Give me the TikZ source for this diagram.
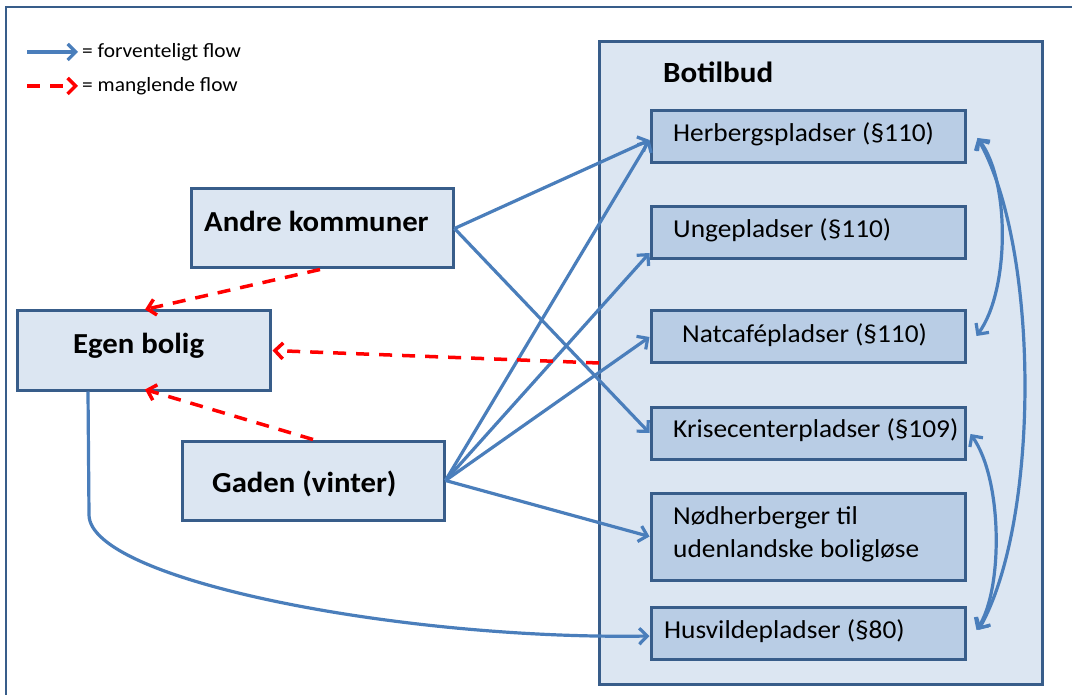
\documentclass[tikz,border=0pt]{standalone}
\usepackage{fontspec}
\setmainfont{Carlito}[FakeStretch=1.06]
\usetikzlibrary{arrows.meta,calc}
\definecolor{boxline}{HTML}{385D8A}
\definecolor{lightfill}{HTML}{DCE6F2}
\definecolor{midfill}{HTML}{B9CDE5}
\definecolor{flowblue}{HTML}{4A7EBB}
\definecolor{flowred}{HTML}{FF0000}
\begin{document}
\begin{tikzpicture}[x=1pt,y=-1pt,
  outerbox/.style={draw=boxline, fill=lightfill, line width=3pt, rectangle, inner sep=0pt},
  innerbox/.style={draw=boxline, fill=midfill, line width=3pt, rectangle, inner sep=0pt, minimum width=314pt},
  biglbl/.style={anchor=base west, inner sep=0pt, font=\fontsize{29}{35}\selectfont\bfseries},
  boxlbl/.style={anchor=base west, inner sep=0pt, font=\fontsize{25.8}{30}\selectfont},
  leglbl/.style={anchor=base west, inner sep=0pt, font=\fontsize{20.2}{24}\selectfont},
  flow/.style={draw=flowblue, line width=3.2pt, -{Straight Barb[length=8pt,width=16pt]}},
  biflow/.style={draw=flowblue, line width=3.2pt, {Straight Barb[length=8pt,width=16pt]}-{Straight Barb[length=8pt,width=16pt]}},
  missing/.style={draw=flowred, line width=3.5pt, dash pattern=on 13pt off 10pt, -{Straight Barb[length=8pt,width=16pt]}}
]
\useasboundingbox (0,0) rectangle (1072,695);
\fill[white] (0,0) rectangle (1072,695);
% outer frame
\draw[boxline, line width=1.5pt] (6,700) -- (6,7) -- (1080,7);

% legend
\coordinate (lb1) at (27,52);
\coordinate (lb2) at (78,52);
\coordinate (lr1) at (27,86);
\coordinate (lr2) at (78,86);
\draw[flow] (lb1) -- (lb2);
\draw[missing] (lr1) -- (lr2);
\node[leglbl] (legf) at (82,58) {= forventeligt flow};
\node[leglbl] (legm) at (82,92) {= manglende flow};

% Botilbud container
\node[outerbox, minimum width=443pt, minimum height=642pt] (bot) at (820.5,363) {};
\node[anchor=base west, inner sep=0pt, font=\fontsize{29.3}{34}\selectfont\bfseries] (bottxt) at (663,83) {Botilbud};

% inner boxes
\node[innerbox, minimum height=52pt] (herb) at (808,137) {};
\node[innerbox, minimum height=52pt] (unge) at (808,233) {};
\node[innerbox, minimum height=52pt] (nat) at (808,337) {};
\node[innerbox, minimum height=52pt] (krise) at (808,433) {};
\node[innerbox, minimum height=87pt] (nod) at (808,536.5) {};
\node[innerbox, minimum height=52pt] (husv) at (808,633) {};
\node[boxlbl] (herbt) at (673,142) {Herbergspladser (§110)};
\node[boxlbl] (unget) at (673,238) {Ungepladser (§110)};
\node[boxlbl] (natt) at (682,342) {Natcafépladser (§110)};
\node[boxlbl] (kriset) at (673,437) {Krisecenterpladser (§109)};
\node[boxlbl] (nodt1) at (673,524) {Nødherberger til};
\node[boxlbl] (nodt2) at (673,557) {udenlandske boligløse};
\node[boxlbl] (husvt) at (664,638) {Husvildepladser (§80)};

% left boxes
\node[outerbox, minimum width=262pt, minimum height=79pt] (andre) at (322,228.5) {};
\node[outerbox, minimum width=253pt, minimum height=79pt] (egen) at (143.5,350.5) {};
\node[outerbox, minimum width=262pt, minimum height=79pt] (gaden) at (313,480.5) {};
\node[biglbl] (andret) at (204,232) {Andre kommuner};
\node[biglbl] (egent) at (73,353) {Egen bolig};
\node[biglbl] (gadent) at (212,492) {Gaden (vinter)};

% expected flows
\draw[flow] (andre.east) -- ($(herb.west)+(0,3)$);
\draw[flow] (andre.east) -- (krise.west);
\draw[flow] (gaden.east) -- ($(herb.west)+(0,3)$);
\draw[flow] (gaden.east) -- ($(unge.west)+(0,20)$);
\draw[flow] (gaden.east) -- (nat.west);
\draw[flow] (gaden.east) -- (nod.west);
\draw[flow] (egen.south -| 88,0) -- (89,515) .. controls (90,580) and (400,640) .. ($(husv.west)+(0,3)$);

% internal movements
\draw[biflow] ($(herb.east)+(11,1)$) .. controls (1010,180) and (1010,290) .. ($(nat.east)+(10,-1)$);
\draw[biflow] ($(herb.east)+(11,1)$) .. controls (1040,250) and (1040,520) .. ($(husv.east)+(12,-3)$);
\draw[biflow] ($(krise.east)+(4,1)$) .. controls (1003,480) and (1003,590) .. ($(husv.east)+(10,-3)$);

% missing flows
\coordinate (rs) at (599,363);
\draw[missing] ($(andre.south)+(-2,0)$) -- ($(egen.north)+(1.5,0)$);
\draw[missing] (rs) -- ($(egen.east)+(1,0)$);
\draw[missing] ($(gaden.north)+(0,0)$) -- ($(egen.south)+(1.5,-2)$);
\end{tikzpicture}
\end{document}
